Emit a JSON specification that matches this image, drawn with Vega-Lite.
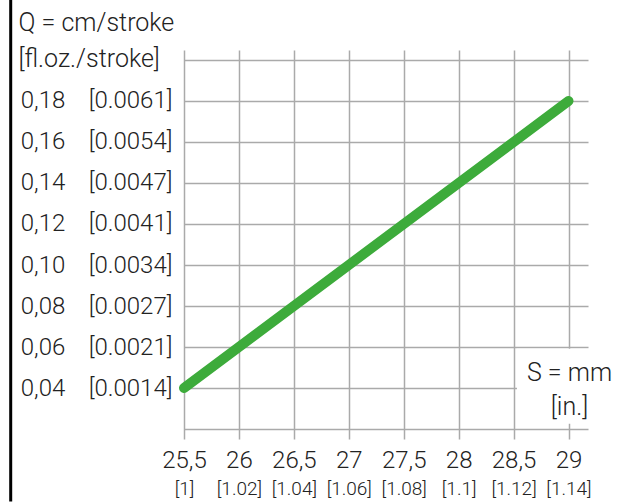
{
  "$schema": "https://vega.github.io/schema/vega-lite/v6.json",
  "width": 404,
  "height": 389,
  "autosize": "none",
  "padding": {"left": 184, "top": 50, "right": 44, "bottom": 63},
  "background": "white",
  "config": {
    "view": {"stroke": null},
    "font": "Roboto",
    "axis": {"labelColor": "#222", "titleColor": "#222", "titleFontWeight": 300, "labelFontWeight": 300, "gridColor": "#aaaaaa", "gridWidth": 1.5, "labelOverlap": false, "labelFlush": false}
  },
  "data": {"values": [{"S": 25.5, "Q": 0.04}, {"S": 29, "Q": 0.18}]},
  "layer": [
    {
      "mark": {"type": "line", "color": "#3dab3b", "strokeWidth": 10, "strokeCap": "round"},
      "encoding": {
        "x": {
          "field": "S", "type": "quantitative",
          "scale": {"domain": [25.5, 29.1775], "nice": false, "zero": false},
          "axis": {
            "values": [25.5, 26, 26.5, 27, 27.5, 28, 28.5, 29],
            "grid": true, "ticks": false, "domain": false,
            "labelFontSize": 24, "labelPadding": 9, "labelOverlap": false, "labelFlush": false,
            "labelExpr": "replace(toString(datum.value), '.', ',')",
            "title": null, "zindex": 0
          }
        },
        "y": {
          "field": "Q", "type": "quantitative",
          "scale": {"domain": [0.01513, 0.20487], "nice": false, "zero": false},
          "axis": {
            "values": [0.02, 0.04, 0.06, 0.08, 0.1, 0.12, 0.14, 0.16, 0.18, 0.2],
            "grid": true, "ticks": false, "domain": false,
            "labelFontSize": 24, "labelPadding": 12, "labelOverlap": false, "labelFlush": false,
            "labelExpr": "['', '', '0,04\u00a0\u00a0\u00a0\u00a0[0.0014]', '0,06\u00a0\u00a0\u00a0\u00a0[0.0021]', '0,08\u00a0\u00a0\u00a0\u00a0[0.0027]', '0,10\u00a0\u00a0\u00a0\u00a0[0.0034]', '0,12\u00a0\u00a0\u00a0\u00a0[0.0041]', '0,14\u00a0\u00a0\u00a0\u00a0[0.0047]', '0,16\u00a0\u00a0\u00a0\u00a0[0.0054]', '0,18\u00a0\u00a0\u00a0\u00a0[0.0061]', ''][round(datum.value * 50)]",
            "title": ["Q = cm/stroke", "[fl.oz./stroke]"],
            "titleFontSize": 25, "titleAngle": 0, "titleAlign": "left", "titleBaseline": "alphabetic",
            "titleX": -166, "titleY": -20, "titleLineHeight": 36, "zindex": 0
          }
        }
      }
    },
    {
      "data": {"values": [{"part": "border"}]},
      "mark": {"type": "rule", "color": "black", "strokeWidth": 3, "clip": false},
      "encoding": {
        "x": {"datum": 23.9225, "type": "quantitative", "axis": null},
        "y": {"datum": 0.2293, "type": "quantitative", "axis": null},
        "y2": {"datum": -0.0154}
      }
    },
    {
      "data": {"values": [{"part": "titlebox"}]},
      "mark": {"type": "rect", "fill": "white", "clip": false},
      "encoding": {
        "x": {"datum": 28.531, "type": "quantitative", "axis": null},
        "x2": {"datum": 29.5},
        "y": {"datum": 0.0592, "type": "quantitative", "axis": null},
        "y2": {"datum": 0.0226}
      }
    },
    {
      "mark": {"type": "point", "opacity": 0},
      "encoding": {
        "x": {
          "field": "S", "type": "quantitative",
          "axis": {
            "orient": "bottom",
            "values": [25.5, 26, 26.5, 27, 27.5, 28, 28.5, 29],
            "grid": false, "ticks": false, "domain": false,
            "labelFontSize": 19, "labelPadding": 40, "labelOverlap": false, "labelFlush": false,
            "labelExpr": "['[1]', '[1.02]', '[1.04]', '[1.06]', '[1.08]', '[1.1]', '[1.12]', '[1.14]'][round((datum.value - 25.5) * 2)]",
            "title": ["S = mm", "[in.]"],
            "titleFontSize": 25, "titleAlign": "center", "titleBaseline": "alphabetic",
            "titleX": 385, "titleY": -59, "titleLineHeight": 34,
            "zindex": 1
          }
        },
        "y": {"field": "Q", "type": "quantitative", "axis": null}
      }
    }
  ],
  "resolve": {"axis": {"x": "independent", "y": "independent"}}
}
